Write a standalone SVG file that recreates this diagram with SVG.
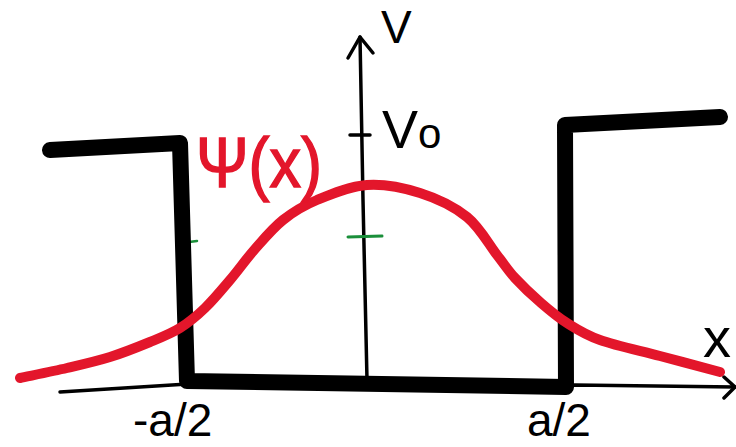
<svg xmlns="http://www.w3.org/2000/svg" width="736" height="447" viewBox="0 0 736 447">
<style>
.ax{fill:none;stroke:#000;stroke-width:3.5;stroke-linecap:round;stroke-linejoin:round}
.lbl{font-family:"Liberation Sans",Arial,sans-serif;fill:#000}
</style>
<rect width="736" height="447" fill="#fff"/>
<g id="axes">
<polyline class="ax" points="60,392 188,384 400,389 575,385 735,387"/>
<polyline class="ax" points="724,377 735,387 724,398"/>
<polyline class="ax" points="367,380 363,200 360,37"/>
<polyline class="ax" points="348,58 360,37 373,53"/>
<line class="ax" x1="350" y1="135" x2="370" y2="135"/>
<line x1="348" y1="237" x2="382" y2="236" stroke="#1a8f3a" stroke-width="3" stroke-linecap="round"/>
<line x1="189" y1="242" x2="197" y2="241" stroke="#1a8f3a" stroke-width="2.5" stroke-linecap="round"/>
</g>
<g id="potential">
<path d="M50,150 L180,143 L187,381 L566,387 L565,125 L720,117" fill="none" stroke="#000" stroke-width="16" stroke-linecap="round" stroke-linejoin="round"/>
</g>
<g id="wavefunction">
<path d="M20,378 C27.8,376.3 52,371.5 67,368 C82,364.5 96.2,361.3 110,357 C123.8,352.7 138.3,346.8 150,342 C161.7,337.2 170.8,333.7 180,328 C189.2,322.3 196.7,316 205,308 C213.3,300 221.7,289.8 230,280 C238.3,270.2 246.2,259 255,249 C263.8,239 272.7,228.2 283,220 C293.3,211.8 303,205.8 317,200 C331,194.2 349.8,186.2 367,185 C384.2,183.8 403.3,187.7 420,193 C436.7,198.3 454.2,206.7 467,217 C479.8,227.3 489,244.8 497,255 C505,265.2 507.8,270.2 515,278 C522.2,285.8 531.3,294.5 540,302 C548.7,309.5 557,316.7 567,323 C577,329.3 584.5,334.5 600,340 C615.5,345.5 640,350.7 660,356 C680,361.3 710,369.3 720,372" fill="none" stroke="#e3162b" stroke-width="10" stroke-linecap="round" stroke-linejoin="round"/>
</g>
<g id="labels">
<text class="lbl" x="381" y="43" font-size="46">V</text>
<text class="lbl" x="382" y="148" font-size="54">V<tspan font-size="42">o</tspan></text>
<text class="lbl" x="703" y="357" font-size="56">x</text>
<text class="lbl" x="133" y="436" font-size="46">-a/2</text>
<text class="lbl" x="527" y="436" font-size="46">a/2</text>
<text x="196" y="187" font-size="70" fill="#e3162b" stroke="#e3162b" stroke-width="1.5" font-family="'Liberation Sans',Arial,sans-serif" textLength="126" lengthAdjust="spacingAndGlyphs">Ψ(x)</text>
</g>
</svg>
